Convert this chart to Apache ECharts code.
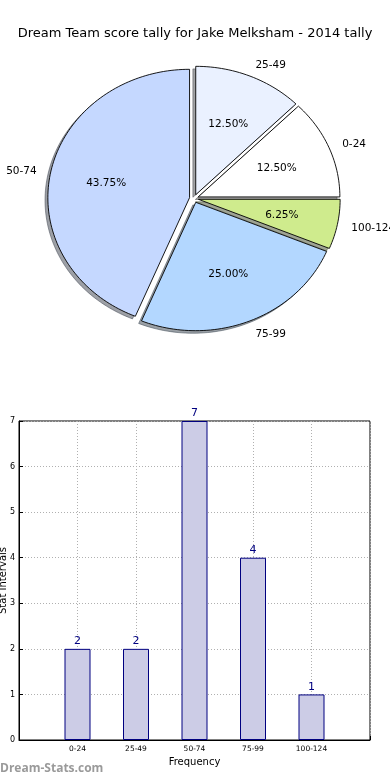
<!DOCTYPE html>
<html>
<head>
<meta charset="utf-8">
<script src="https://cdn.jsdelivr.net/npm/echarts@6/dist/echarts.min.js"></script>
<style>html,body{margin:0;padding:0;background:#fff}#c{width:390px;height:780px}</style>
</head>
<body>
<div id="c"></div>
<script>
const titleText = 'Dream Team score tally for Jake Melksham - 2014 tally';
const categories = ['0-24', '25-49', '50-74', '75-99', '100-124'];
const counts = [2, 2, 7, 4, 1];
const sliceColors = ['#ffffff', '#eaf1ff', '#c5d8ff', '#b3d7ff', '#cfeb8d'];
const yTickMax = 7;
const yAxisName = 'Stat Intervals';
const xAxisName = 'Frequency';
const watermark = 'Dream-Stats.com';

const total = counts.reduce((a, b) => a + b, 0);
const cum = [0];
counts.forEach((v, i) => cum.push(cum[i] + v / total));
const explode = 0.032;
const shadowOff = 0.02;
const FONT = 'DejaVu Sans';

function hexToRgb(h) {
  const n = parseInt(h.slice(1), 16);
  return [(n >> 16) & 255, (n >> 8) & 255, n & 255];
}

function renderSlice(params, api) {
  const i = params.dataIndex;
  const t1 = cum[i] * 2 * Math.PI, t2 = cum[i + 1] * 2 * Math.PI;
  const tm = (t1 + t2) / 2;
  const ex = explode * Math.cos(tm), ey = explode * Math.sin(tm);
  const N = Math.max(8, Math.ceil((t2 - t1) / (2 * Math.PI) * 240));
  const pts = [api.coord([ex, ey])];
  const spts = [api.coord([ex - shadowOff, ey - shadowOff])];
  for (let k = 0; k <= N; k++) {
    const th = t1 + (t2 - t1) * k / N;
    pts.push(api.coord([ex + Math.cos(th), ey + Math.sin(th)]));
    spts.push(api.coord([ex - shadowOff + Math.cos(th), ey - shadowOff + Math.sin(th)]));
  }
  const rgb = hexToRgb(sliceColors[i]).map(c => Math.round(c * 0.3));
  const sc = 'rgba(' + rgb.join(',') + ',0.5)';
  const lx = ex + 1.1 * Math.cos(tm), ly = ey + 1.1 * Math.sin(tm);
  const lp = api.coord([lx, ly]);
  const pp = api.coord([ex + 0.6 * Math.cos(tm), ey + 0.6 * Math.sin(tm)]);
  const pct = (counts[i] / total * 100).toFixed(2) + '%';
  return {
    type: 'group',
    children: [
      { type: 'polygon', z2: 0, shape: { points: spts }, style: { fill: sc, stroke: sc, lineWidth: 1 } },
      { type: 'polygon', z2: 5, shape: { points: pts }, style: { fill: sliceColors[i], stroke: '#000', lineWidth: 0.9 } },
      { type: 'text', z2: 10, style: { text: categories[i], x: lp[0], y: lp[1] + 1, fill: '#000',
          font: '10.5px "' + FONT + '"', align: lx > 0 ? 'left' : 'right', verticalAlign: 'middle' } },
      { type: 'text', z2: 10, style: { text: pct, x: pp[0], y: pp[1] + 1, fill: '#000',
          font: '10.5px "' + FONT + '"', align: 'center', verticalAlign: 'middle' } }
    ]
  };
}

const chart = echarts.init(document.getElementById('c'), null, { renderer: 'canvas' });
const barCats = [''].concat(categories, ['']);
const barData = ['-'].concat(counts, ['-']);

chart.setOption({
  animation: false,
  backgroundColor: '#fff',
  textStyle: { fontFamily: FONT },
  title: {
    text: titleText, left: 'center', top: 22,
    textStyle: { fontFamily: FONT, fontSize: 13, fontWeight: 'normal', color: '#000' }
  },
  graphic: [{
    type: 'text', left: 0, top: 763,
    style: { text: watermark, font: 'bold 12px "Open Sans"', fill: '#9a9a9a' }
  }],
  grid: [
    { left: 9.8, width: 368.4, top: 31.6, height: 333.8, show: false, containLabel: false, outerBoundsMode: 'none' },
    { left: 19, right: 20, top: 421, bottom: 40, show: true, borderColor: '#000', borderWidth: 1,
      containLabel: false, outerBoundsMode: 'none' }
  ],
  xAxis: [
    { gridIndex: 0, type: 'value', min: -1.3, max: 1.3, show: false },
    {
      gridIndex: 1, type: 'category', data: barCats, boundaryGap: false,
      name: xAxisName, nameLocation: 'middle', nameGap: 17, nameMoveOverlap: false,
      nameTextStyle: { fontFamily: FONT, fontSize: 10, color: '#000' },
      axisLine: { lineStyle: { color: '#000' } },
      axisTick: { inside: true, length: 4, lineStyle: { color: '#000' } },
      axisLabel: { fontFamily: FONT, fontSize: 7.5, color: '#000', margin: 5, interval: 0 },
      splitLine: { show: true, interval: 0, lineStyle: { color: '#b0b0b0', type: [1, 2], width: 1 } }
    }
  ],
  yAxis: [
    { gridIndex: 0, type: 'value', min: -1.3, max: 1.3, show: false },
    {
      gridIndex: 1, type: 'value', min: 0, max: yTickMax, interval: 1,
      name: yAxisName, nameLocation: 'middle', nameGap: 11, nameRotate: 90, nameMoveOverlap: false,
      nameTextStyle: { fontFamily: FONT, fontSize: 10, color: '#000' },
      axisLine: { show: true, lineStyle: { color: '#000' } },
      axisTick: { show: true, inside: true, length: 4, lineStyle: { color: '#000' } },
      axisLabel: { fontFamily: FONT, fontSize: 8, color: '#000', margin: 4 },
      splitLine: { show: true, lineStyle: { color: '#b0b0b0', type: [1, 2], width: 1 } }
    }
  ],
  series: [
    {
      type: 'custom', coordinateSystem: 'cartesian2d', xAxisIndex: 0, yAxisIndex: 0,
      data: counts.map((v, i) => [i, v]), renderItem: renderSlice, clip: false, silent: true
    },
    {
      type: 'bar', xAxisIndex: 1, yAxisIndex: 1, data: barData, barWidth: 26,
      itemStyle: { color: '#ccccE6', borderColor: '#000080', borderWidth: 1 },
      label: { show: true, position: 'top', distance: 2, color: '#000080', fontFamily: FONT, fontSize: 11 }
    }
  ]
});
</script>
</body>
</html>
